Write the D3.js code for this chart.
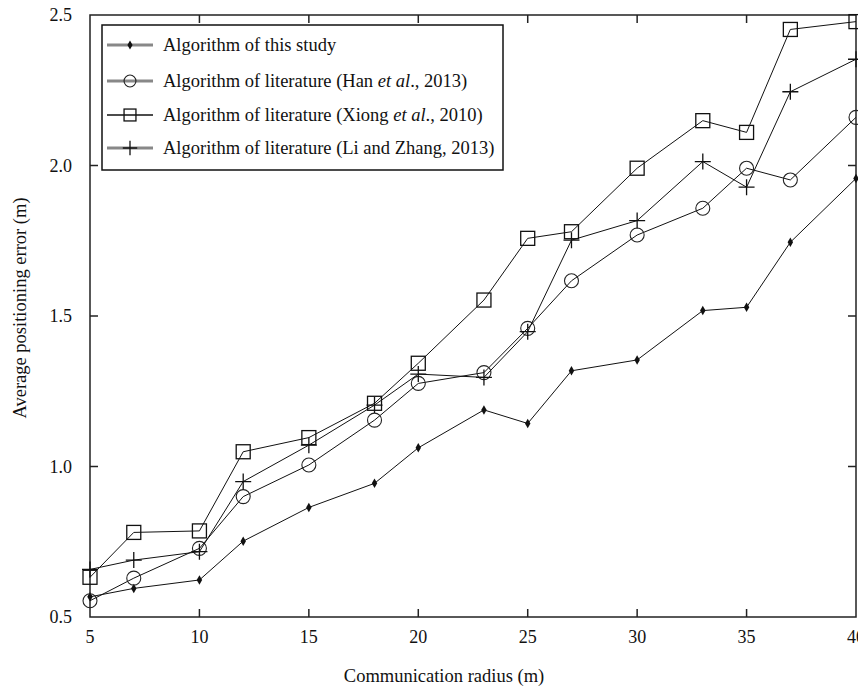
<!DOCTYPE html>
<html>
<head>
<meta charset="utf-8">
<script src="https://cdn.jsdelivr.net/npm/d3@7"></script>
<style>
  body { margin: 0; background: #fff; }
  svg text { font-family: "Liberation Serif", "Times New Roman", serif; fill: #111; }
</style>
</head>
<body>
<script>
// chart data
const radius = [5, 7, 10, 12, 15, 18, 20, 23, 25, 27, 30, 33, 35, 37, 40];
const thisStudy = [0.567, 0.595, 0.623, 0.752, 0.864, 0.944, 1.062, 1.188, 1.143, 1.318, 1.354, 1.518, 1.529, 1.745, 1.957];
const han = [0.554, 0.629, 0.728, 0.900, 1.005, 1.154, 1.276, 1.312, 1.459, 1.617, 1.769, 1.858, 1.991, 1.952, 2.160];
const xiong = [0.632, 0.781, 0.786, 1.049, 1.096, 1.210, 1.343, 1.553, 1.758, 1.780, 1.991, 2.149, 2.110, 2.452, 2.478];
const liZhang = [0.658, 0.689, 0.717, 0.950, 1.071, 1.204, 1.307, 1.296, 1.448, 1.752, 1.817, 2.013, 1.928, 2.245, 2.353];
const xTicks = [5, 10, 15, 20, 25, 30, 35, 40];
const yTicks = [0.5, 1.0, 1.5, 2.0, 2.5];

const series = [
  { name: 'Algorithm of this study', values: thisStudy, marker: 'dot' },
  { name: ['Algorithm of literature (Han ', 'et al', '., 2013)'], values: han, marker: 'circle' },
  { name: ['Algorithm of literature (Xiong ', 'et al', '., 2010)'], values: xiong, marker: 'square' },
  { name: 'Algorithm of literature (Li and Zhang, 2013)', values: liZhang, marker: 'plus' }
];

const width = 858, height = 686;
const margin = { top: 15, right: 2, bottom: 69, left: 90 };

const svg = d3.select('body').append('svg')
  .attr('width', width)
  .attr('height', height);

const x = d3.scaleLinear().domain([5, 40]).range([margin.left, width - margin.right]);
const y = d3.scaleLinear().domain([0.5, 2.5]).range([height - margin.bottom, margin.top]);

// draws one marker of the given kind into a group
function drawMarker(g, kind, cx, cy, s) {
  s = s || 1;
  if (kind === 'dot') {
    g.append('path')
      .attr('d', d3.symbol(d3.symbolDiamond, 26 * s)())
      .attr('transform', `translate(${cx},${cy})`)
      .attr('fill', '#111');
  } else if (kind === 'circle') {
    g.append('circle')
      .attr('cx', cx).attr('cy', cy).attr('r', 7 * s)
      .attr('fill', 'none').attr('stroke', '#222').attr('stroke-width', 1.1);
  } else if (kind === 'square') {
    const h = 7 * s;
    g.append('rect')
      .attr('x', cx - h).attr('y', cy - h)
      .attr('width', 2 * h).attr('height', 2 * h)
      .attr('fill', 'none').attr('stroke', '#111').attr('stroke-width', 1.3);
  } else if (kind === 'plus') {
    const h = 8 * s;
    g.append('path')
      .attr('d', `M${cx - h},${cy}H${cx + h}M${cx},${cy - h}V${cy + h}`)
      .attr('stroke', '#111').attr('stroke-width', 1.3);
  }
}

// frame
svg.append('rect')
  .attr('x', x(5)).attr('y', y(2.5))
  .attr('width', x(40) - x(5)).attr('height', y(0.5) - y(2.5))
  .attr('fill', 'none').attr('stroke', '#222').attr('stroke-width', 1.5);

// inward ticks on all sides
const tickLen = 8;
const ticks = svg.append('g').attr('stroke', '#222').attr('stroke-width', 1.5);
xTicks.slice(1, -1).forEach(t => {
  ticks.append('line').attr('x1', x(t)).attr('x2', x(t)).attr('y1', y(0.5)).attr('y2', y(0.5) - tickLen);
  ticks.append('line').attr('x1', x(t)).attr('x2', x(t)).attr('y1', y(2.5)).attr('y2', y(2.5) + tickLen);
});
yTicks.slice(1, -1).forEach(t => {
  ticks.append('line').attr('x1', x(5)).attr('x2', x(5) + tickLen).attr('y1', y(t)).attr('y2', y(t));
  ticks.append('line').attr('x1', x(40)).attr('x2', x(40) - tickLen).attr('y1', y(t)).attr('y2', y(t));
});

// tick labels
svg.append('g').selectAll('text')
  .data(xTicks).enter().append('text')
  .attr('x', d => x(d)).attr('y', y(0.5) + 26)
  .attr('text-anchor', 'middle')
  .style('font-size', '18px')
  .text(d => d);

svg.append('g').selectAll('text')
  .data(yTicks).enter().append('text')
  .attr('x', x(5) - 18).attr('y', d => y(d) + 6)
  .attr('text-anchor', 'end')
  .style('font-size', '18px')
  .text(d => d.toFixed(1));

// axis titles
svg.append('text')
  .attr('x', 444).attr('y', 682)
  .attr('text-anchor', 'middle')
  .style('font-size', '18.5px')
  .text('Communication radius (m)');

svg.append('text')
  .attr('transform', 'translate(26,308) rotate(-90)')
  .attr('text-anchor', 'middle')
  .style('font-size', '18.5px')
  .text('Average positioning error (m)');

// series lines and markers
const line = d3.line().x((d, i) => x(radius[i])).y(d => y(d));
series.forEach(s => {
  const g = svg.append('g');
  g.append('path')
    .attr('d', line(s.values))
    .attr('fill', 'none')
    .attr('stroke', '#111')
    .attr('stroke-width', 1);
  s.values.forEach((v, i) => drawMarker(g, s.marker, x(radius[i]), y(v)));
});

// legend
const legend = svg.append('g');
legend.append('rect')
  .attr('x', 102).attr('y', 25).attr('width', 401).attr('height', 145)
  .attr('fill', '#fff').attr('stroke', '#111').attr('stroke-width', 1.5);

const rowY = [45, 81, 115, 148];
series.forEach((s, i) => {
  const ly = rowY[i];
  const thick = s.marker !== 'square';
  legend.append('line')
    .attr('x1', 107).attr('x2', 153).attr('y1', ly).attr('y2', ly)
    .attr('stroke', thick ? '#888' : '#111')
    .attr('stroke-width', thick ? 3 : 1.3);
  drawMarker(legend, s.marker, 130, ly, s.marker === 'dot' ? 0.9 : (s.marker === 'plus' ? 0.9 : 0.85));
  const t = legend.append('text')
    .attr('x', 163).attr('y', ly + 6)
    .style('font-size', '18.5px');
  if (Array.isArray(s.name)) {
    t.append('tspan').text(s.name[0]);
    t.append('tspan').style('font-style', 'italic').text(s.name[1]);
    t.append('tspan').text(s.name[2]);
  } else {
    t.text(s.name);
  }
});
</script>
</body>
</html>
